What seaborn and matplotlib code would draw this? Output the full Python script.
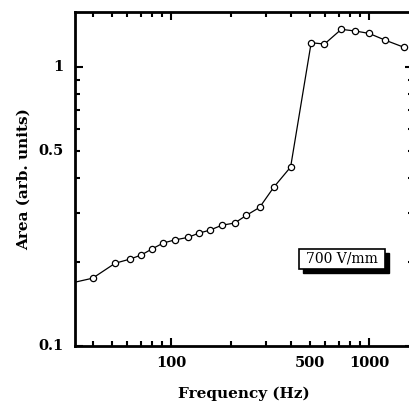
import matplotlib
matplotlib.use("Agg")
import numpy as np
import pandas as pd
import seaborn as sns
import matplotlib.pyplot as plt
from matplotlib.patches import Rectangle
from matplotlib.ticker import FixedLocator, NullFormatter, LogLocator

freq = [31, 40, 52, 62, 70.5, 80, 91, 104, 121, 138, 156, 180, 209, 239, 279,
        329, 400, 508, 593, 721, 849, 996, 1196, 1494]
area = [0.168, 0.175, 0.198, 0.205, 0.212, 0.223, 0.234, 0.240, 0.245, 0.254,
        0.260, 0.271, 0.276, 0.294, 0.314, 0.371, 0.438, 1.222, 1.209, 1.365,
        1.346, 1.32, 1.25, 1.177]
xtick_vals = [100, 500, 1000]
xtick_labels = ["100", "500", "1000"]
ytick_vals = [0.1, 0.5, 1]
ytick_labels = ["0.1", "0.5", "1"]
box_text = "700 V/mm"

df = pd.DataFrame({"freq": freq, "area": area})

sns.set_style("ticks")
plt.rcParams["font.family"] = ["DejaVu Serif"]
plt.rcParams["text.color"] = "black"
plt.rcParams["axes.labelcolor"] = "black"
plt.rcParams["axes.edgecolor"] = "black"
plt.rcParams["xtick.color"] = "black"
plt.rcParams["ytick.color"] = "black"

fig = plt.figure(figsize=(4.09, 4.04), dpi=100)
ax = fig.add_axes([75/409, 1-346/404, 338/409, 334/404])

sns.lineplot(data=df, x="freq", y="area", ax=ax, color="black", linewidth=0.9,
             marker="o", markersize=4.5, markerfacecolor="white",
             markeredgecolor="black", markeredgewidth=0.9)

ax.set_xscale("log")
ax.set_yscale("log")
ax.set_xlim(32.6, 1660)
ax.set_ylim(0.1, 1.575)

ax.xaxis.set_major_locator(FixedLocator([100, 1000]))
ax.xaxis.set_minor_locator(LogLocator(base=10, subs=np.arange(2, 10), numticks=20))
ax.xaxis.set_minor_formatter(NullFormatter())
ax.xaxis.set_major_formatter(NullFormatter())
ax.yaxis.set_major_locator(FixedLocator([0.1, 1]))
ax.yaxis.set_minor_locator(LogLocator(base=10, subs=np.arange(2, 10), numticks=20))
ax.yaxis.set_minor_formatter(NullFormatter())
ax.yaxis.set_major_formatter(NullFormatter())

for v, lab in zip(xtick_vals, xtick_labels):
    ax.text(v, -0.03, lab, transform=ax.get_xaxis_transform(), ha="center",
            va="top", fontsize=10.5, fontweight="bold", color="black")
for v, lab in zip(ytick_vals, ytick_labels):
    ax.text(-0.035, v, lab, transform=ax.get_yaxis_transform(), ha="right",
            va="center", fontsize=10.5, fontweight="bold", color="black")

ax.tick_params(which="both", direction="in", top=True, right=True, width=1.5,
               color="black")
ax.tick_params(which="major", length=6)
ax.tick_params(which="minor", length=3.5)
for s in ax.spines.values():
    s.set_linewidth(2)
    s.set_color("black")

ax.set_xlabel("Frequency (Hz)", fontsize=11, fontweight="bold", labelpad=26,
              color="black")
ax.set_ylabel("Area (arb. units)", fontsize=11, fontweight="bold", labelpad=28,
              color="black")

x0, x1 = (299-75)/338, (385-75)/338
y1, y0 = 1-(249-12)/334, 1-(269-12)/334
dx, dy = 4/338, 4/334
ax.add_patch(Rectangle((x0+dx, y0-dy), x1-x0, y1-y0, transform=ax.transAxes,
                       facecolor="black", edgecolor="black", zorder=5))
ax.add_patch(Rectangle((x0, y0), x1-x0, y1-y0, transform=ax.transAxes,
                       facecolor="white", edgecolor="black", linewidth=1.2, zorder=6))
ax.text((x0+x1)/2, (y0+y1)/2, box_text, transform=ax.transAxes, ha="center",
        va="center", fontsize=10, zorder=7, color="black")

fig.savefig("out.png", dpi=100)
